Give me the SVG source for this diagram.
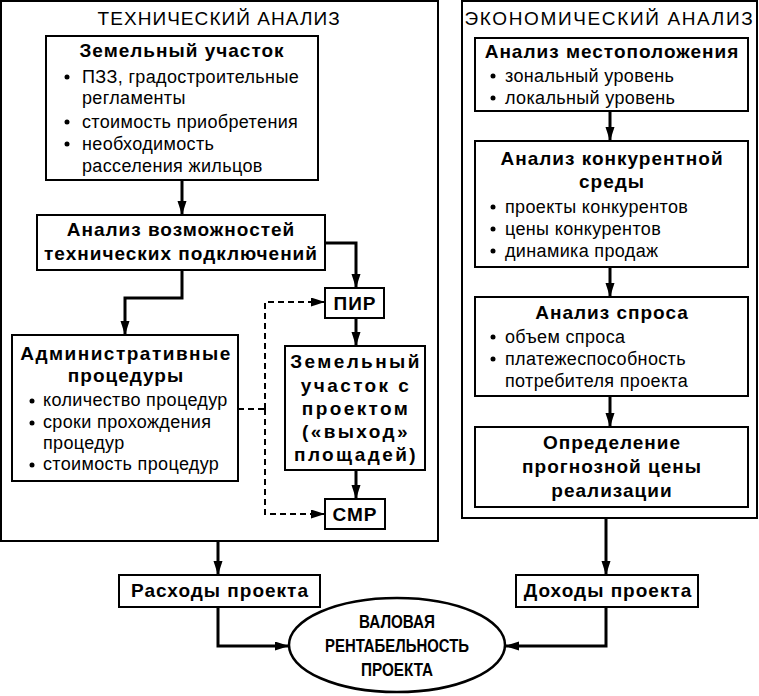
<svg xmlns="http://www.w3.org/2000/svg" width="759" height="696" viewBox="0 0 759 696">
<defs>
<marker id="ah" markerUnits="userSpaceOnUse" markerWidth="16" markerHeight="10" refX="14" refY="4.5" orient="auto">
<path d="M0,0 L14,4.5 L0,9 z" fill="#000"/>
</marker>
<style>
rect.box{fill:#fff;stroke:#000;stroke-width:2}
rect.outer{fill:#fff;stroke:#000;stroke-width:2}
text{font-family:"Liberation Sans",Arial,sans-serif;fill:#000}
.t{font-size:18px;letter-spacing:0.35px}
.b{font-size:19px;font-weight:bold;letter-spacing:1px;text-anchor:middle}
.w{letter-spacing:2.4px}
.h{font-size:19px;letter-spacing:0.8px;text-anchor:middle}
.e{font-size:18px;font-weight:bold;text-anchor:middle}
.c{fill:none;stroke:#000;stroke-width:3}
.d{fill:none;stroke:#000;stroke-width:2;stroke-dasharray:6 4}
circle{fill:#000}
</style>
</defs>
<g id="tech-analysis">
<rect class="outer" x="1" y="1" width="437" height="540"/>
<text class="h" x="219" y="25" textLength="243">ТЕХНИЧЕСКИЙ АНАЛИЗ</text>
</g>
<g id="econ-analysis">
<rect class="outer" x="462" y="1" width="295" height="517"/>
<text class="h" x="609" y="25" textLength="289">ЭКОНОМИЧЕСКИЙ АНАЛИЗ</text>
</g>
<g id="land-plot">
<rect class="box" x="46" y="36" width="272" height="144"/>
<text class="b" x="182" y="57">Земельный участок</text>
<circle cx="67" cy="77" r="2.5"/><text class="t" x="82" y="83">ПЗЗ, градостроительные</text>
<text class="t" x="82" y="104">регламенты</text>
<circle cx="67" cy="122" r="2.5"/><text class="t" x="82" y="128">стоимость приобретения</text>
<circle cx="67" cy="144" r="2.5"/><text class="t" x="82" y="150">необходимость</text>
<text class="t" x="82" y="172">расселения жильцов</text>
</g>
<g id="connections-analysis">
<rect class="box" x="37" y="215" width="288" height="55"/>
<text class="b" x="181" y="236">Анализ возможностей</text>
<text class="b" x="181" y="260">технических подключений</text>
</g>
<g id="admin">
<rect class="box" x="12" y="335" width="226" height="146"/>
<text class="b" x="126" y="360" style="letter-spacing:1.5px">Административные</text>
<text class="b" x="126" y="382">процедуры</text>
<circle cx="32" cy="401" r="2.5"/><text class="t" x="43" y="406">количество процедур</text>
<circle cx="32" cy="423" r="2.5"/><text class="t" x="43" y="428">сроки прохождения</text>
<text class="t" x="43" y="449">процедур</text>
<circle cx="32" cy="465" r="2.5"/><text class="t" x="43" y="470">стоимость процедур</text>
</g>
<g id="pir">
<rect class="box" x="325" y="288" width="59" height="30"/>
<text class="b" x="355" y="310">ПИР</text>
</g>
<g id="land-project">
<rect class="box" x="285" y="346" width="140" height="124"/>
<text class="b w" x="356" y="368">Земельный</text>
<text class="b w" x="356" y="392">участок с</text>
<text class="b w" x="356" y="415">проектом</text>
<text class="b w" x="356" y="438">(«выход»</text>
<text class="b w" x="356" y="461">площадей)</text>
</g>
<g id="smr">
<rect class="box" x="325" y="499" width="60" height="30"/>
<text class="b" x="355" y="521">СМР</text>
</g>
<g id="location">
<rect class="box" x="475" y="38" width="273" height="73"/>
<text class="b" x="612" y="58">Анализ местоположения</text>
<circle cx="493" cy="76" r="2.5"/><text class="t" x="505" y="82">зональный уровень</text>
<circle cx="493" cy="98" r="2.5"/><text class="t" x="505" y="104">локальный уровень</text>
</g>
<g id="competition">
<rect class="box" x="475" y="141" width="273" height="126"/>
<text class="b" x="612" y="165">Анализ конкурентной</text>
<text class="b" x="612" y="188">среды</text>
<circle cx="493" cy="207" r="2.5"/><text class="t" x="505" y="213">проекты конкурентов</text>
<circle cx="493" cy="229" r="2.5"/><text class="t" x="505" y="235">цены конкурентов</text>
<circle cx="493" cy="251" r="2.5"/><text class="t" x="505" y="257">динамика продаж</text>
</g>
<g id="demand">
<rect class="box" x="475" y="297" width="273" height="99"/>
<text class="b" x="612" y="319">Анализ спроса</text>
<circle cx="493" cy="337" r="2.5"/><text class="t" x="505" y="343">объем спроса</text>
<circle cx="493" cy="359" r="2.5"/><text class="t" x="505" y="365">платежеспособность</text>
<text class="t" x="505" y="387">потребителя проекта</text>
</g>
<g id="price">
<rect class="box" x="475" y="427" width="273" height="80"/>
<text class="b" x="612" y="449">Определение</text>
<text class="b" x="612" y="473">прогнозной цены</text>
<text class="b" x="612" y="497">реализации</text>
</g>
<g id="costs">
<rect class="box" x="119" y="575" width="201" height="32"/>
<text class="b" x="220" y="597">Расходы проекта</text>
</g>
<g id="revenue">
<rect class="box" x="516" y="575" width="182" height="32"/>
<text class="b" x="608" y="597">Доходы проекта</text>
</g>
<g id="profitability">
<ellipse cx="397" cy="645" rx="108" ry="47" fill="#fff" stroke="#000" stroke-width="2.5"/>
<text class="e" x="397" y="628" textLength="76" lengthAdjust="spacingAndGlyphs">ВАЛОВАЯ</text>
<text class="e" x="397" y="652" textLength="144" lengthAdjust="spacingAndGlyphs">РЕНТАБЕЛЬНОСТЬ</text>
<text class="e" x="397" y="676" textLength="72" lengthAdjust="spacingAndGlyphs">ПРОЕКТА</text>
</g>
<g id="connectors">
<path class="c" d="M182,180 V215" marker-end="url(#ah)"/>
<path class="c" d="M325,243 H356 V288" marker-end="url(#ah)"/>
<path class="c" d="M356,318 V346" marker-end="url(#ah)"/>
<path class="c" d="M356,470 V499" marker-end="url(#ah)"/>
<path class="c" d="M182,270 V298 H125 V335" marker-end="url(#ah)"/>
<path class="d" d="M238,409 H265"/>
<path class="d" d="M265,409 V302 H325" marker-end="url(#ah)"/>
<path class="d" d="M265,409 V514 H325" marker-end="url(#ah)"/>
<path class="c" d="M610,111 V141" marker-end="url(#ah)"/>
<path class="c" d="M610,267 V297" marker-end="url(#ah)"/>
<path class="c" d="M610,396 V427" marker-end="url(#ah)"/>
<path class="c" d="M218,541 V575" marker-end="url(#ah)"/>
<path class="c" d="M218,607 V646 H289" marker-end="url(#ah)"/>
<path class="c" d="M606,518 V575" marker-end="url(#ah)"/>
<path class="c" d="M606,607 V646 H505" marker-end="url(#ah)"/>
</g>
</svg>
